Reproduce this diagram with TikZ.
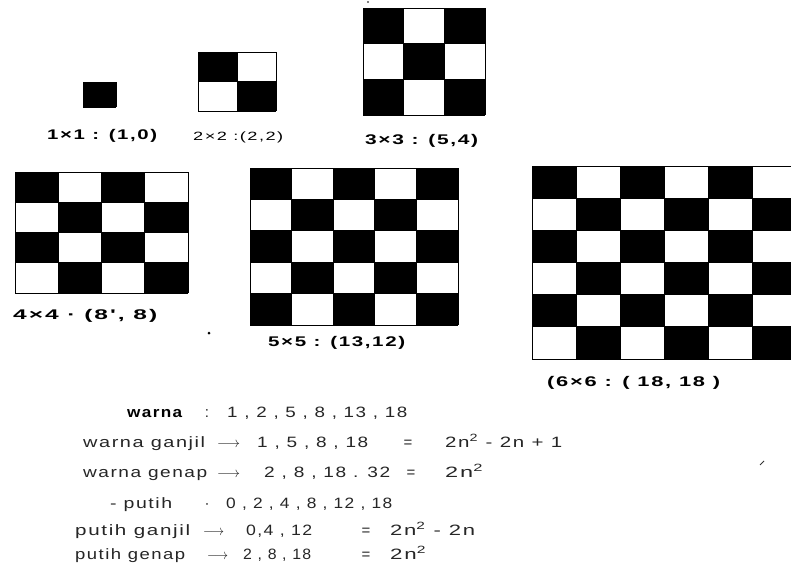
\documentclass[tikz,border=0pt]{standalone}
\usepackage{fontspec}
\usepackage{graphicx}
\setmainfont{Liberation Sans}
\newfontfamily\hand[LetterSpace=8]{Liberation Sans}
\newcommand\fitw[2]{\resizebox{#1pt}{\height}{#2}}
\newcommand\chkboard[5]{%
  \pgfmathsetmacro\bcw{(#3-#1)/#5}%
  \pgfmathsetmacro\bch{(#4-#2)/#5}%
  \foreach \i in {1,...,#5}{\foreach \j in {1,...,#5}{%
    \pgfmathtruncatemacro\bpar{mod(\i+\j,2)}%
    \ifnum\bpar=0 \fill[cellblack] ({#1+(\i-1)*\bcw},{#2+(\j-1)*\bch}) rectangle ++(\bcw,\bch);\fi
  }}%
  \foreach \k in {0,...,#5}{%
    \draw[gridline] ({#1+\k*\bcw},#2) -- ({#1+\k*\bcw},#4);
    \draw[gridline] (#1,{#2+\k*\bch}) -- (#3,{#2+\k*\bch});
  }%
}
\begin{document}
\begin{tikzpicture}[x=1pt,y=-1pt,
  cellblack/.style={fill=black},
  gridline/.style={line width=1pt,black},
  lbl/.style={inner sep=0pt,anchor=base west,font=\hand\fontsize{14}{16}\selectfont\bfseries},
  hw/.style={inner sep=0pt,anchor=base west,text=black!85,font=\hand\fontsize{15}{17}\selectfont},
  hwc/.style={inner sep=0pt,anchor=base,text=black!85,font=\hand\fontsize{15}{17}\selectfont}]
\clip (0,0) rectangle (791,568);
\fill[white] (0,0) rectangle (791,568);

% boards
\chkboard{83}{82}{116}{107}{1}
\chkboard{198}{52}{276}{111}{2}
\chkboard{363}{8}{485}{115}{3}
\chkboard{15}{172}{188}{293}{4}
\chkboard{250}{168}{458}{325}{5}
\chkboard{532}{166}{797}{359}{6}

% board labels
\node[lbl] (lab1) at (47,139) {\fitw{110}{1×1 : (1,0)}};
\node[lbl,font=\hand\fontsize{12}{14}\selectfont] (lab2) at (193,140) {\fitw{90}{2×2 :(2,2)}};
\node[lbl] (lab3) at (365,144) {\fitw{113}{3×3 : (5,4)}};
\node[lbl] (lab4) at (13,319) {\fitw{144}{4×4 · (8', 8)}};
\node[lbl] (lab5) at (268,346) {\fitw{137}{5×5 : (13,12)}};
\node[lbl] (lab6) at (547,386) {\fitw{173}{(6×6 : ( 18, 18 )}};
\fill[black] (209,333) circle (1.5) coordinate (dotm);
\fill[black] (368,2) circle (0.8) coordinate (dott);
\draw[black!80,line width=0.9pt] (760,465) -- (764,461) coordinate (tick);

% line 1
\node[hw,text=black,font=\hand\fontsize{15}{17}\selectfont\bfseries] (a1) at (127,417) {\fitw{55}{warna}};
\node[hwc] (a2) at (207,417) {:};
\node[hw] (a3) at (227,417) {\fitw{180}{1 , 2 , 5 , 8 , 13 , 18}};
% line 2
\node[hw] (b1) at (83,447) {\fitw{122}{warna ganjil}};
\node[hw] (b2) at (217,447) {\fitw{23}{$\longrightarrow$}};
\node[hw] (b3) at (257,447) {\fitw{111}{1 , 5 , 8 , 18}};
\node[hwc] (b4) at (408,447) {=};
\node[hw] (b5) at (445,447) {\fitw{117}{2n\textsuperscript{2} - 2n + 1}};
% line 3
\node[hw] (c1) at (83,477) {\fitw{124}{warna genap}};
\node[hw] (c2) at (217,477) {\fitw{23}{$\longrightarrow$}};
\node[hw] (c3) at (264,477) {\fitw{126}{2 , 8 , 18 . 32}};
\node[hwc] (c4) at (411,477) {=};
\node[hw] (c5) at (445,477) {\fitw{38}{2n\textsuperscript{2}}};
% line 4
\node[hw] (d1) at (110,508) {\fitw{62}{- putih}};
\node[hwc] (d2) at (207,508) {·};
\node[hw] (d3) at (226,508) {\fitw{166}{0 , 2 , 4 , 8 , 12 , 18}};
% line 5
\node[hw] (e1) at (75,535) {\fitw{115}{putih ganjil}};
\node[hw] (e2) at (203,535) {\fitw{21}{$\longrightarrow$}};
\node[hw] (e3) at (246,535) {\fitw{66}{0,4 , 12}};
\node[hwc] (e4) at (366,535) {=};
\node[hw] (e5) at (390,535) {\fitw{85}{2n\textsuperscript{2} - 2n}};
% line 6
\node[hw] (f1) at (75,559) {\fitw{110}{putih genap}};
\node[hw] (f2) at (207,559) {\fitw{21}{$\longrightarrow$}};
\node[hw] (f3) at (243,559) {\fitw{68}{2 , 8 , 18}};
\node[hwc] (f4) at (366,559) {=};
\node[hw] (f5) at (390,559) {\fitw{36}{2n\textsuperscript{2}}};
\end{tikzpicture}
\end{document}
